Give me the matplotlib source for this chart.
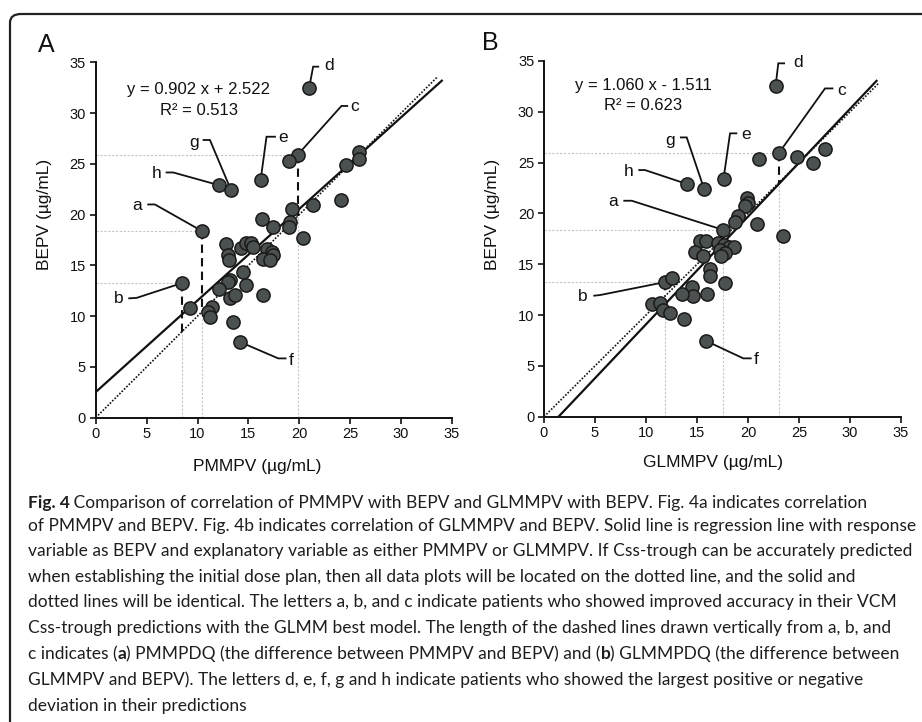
import matplotlib
matplotlib.use('Agg')
import matplotlib.pyplot as plt
from matplotlib.patches import FancyBboxPatch
from matplotlib import font_manager as fm

# ---------------- data ----------------
# Panel A: PMMPV (x) vs BEPV (y)
pm_x = [20.97, 19.85, 19.0, 16.2, 12.1, 13.3, 10.4, 8.45, 14.2, 24.6, 25.9, 25.9,
        24.1, 21.3, 19.3, 19.1, 19.0, 17.4, 16.3, 20.4, 12.8, 13.0, 13.1, 14.3,
        14.76, 15.3, 15.5, 16.78, 17.27, 17.44, 16.45, 17.1, 14.5, 13.2, 13.0, 12.1,
        14.75, 16.45, 13.2, 13.7, 9.3, 11.4, 11.06, 11.22, 13.5]
pm_y = [32.5, 25.9, 25.3, 23.4, 22.9, 22.4, 18.4, 13.25, 7.45, 24.9, 26.2, 25.5,
        21.4, 20.9, 20.6, 19.3, 18.8, 18.8, 19.6, 17.7, 17.1, 16.0, 15.5, 16.7,
        17.2, 17.2, 16.8, 16.58, 16.35, 16.02, 15.59, 15.53, 14.32, 13.6, 13.4, 12.64,
        13.07, 12.08, 11.8, 12.1, 10.8, 10.9, 10.44, 9.95, 9.39]

# Panel B: GLMMPV (x) vs BEPV (y)
gl_x = [22.7, 23.0, 21.1, 24.8, 26.4, 27.5, 17.6, 14.0, 15.7, 17.5, 20.9, 23.4,
        19.9, 20.0, 19.7, 19.05, 18.7, 15.3, 15.9, 14.8, 15.6, 17.1, 17.6, 18.1,
        18.6, 17.3, 17.7, 17.4, 16.3, 16.3, 17.7, 11.9, 12.5, 14.5, 14.6, 13.5,
        16.0, 10.6, 11.4, 11.7, 12.4, 13.7, 15.9]
gl_y = [32.5, 25.9, 25.4, 25.6, 25.0, 26.3, 23.4, 22.9, 22.4, 18.4, 19.0, 17.8,
        21.5, 21.0, 20.7, 19.7, 19.2, 17.3, 17.3, 16.2, 15.8, 17.05, 16.9, 16.7,
        16.7, 16.4, 16.1, 15.8, 14.5, 13.8, 13.2, 13.25, 13.6, 12.8, 11.9, 12.1,
        12.1, 11.1, 11.2, 10.5, 10.2, 9.6, 7.45]

# labelled patients: index into the arrays above
lab_names = ['d', 'c', 'e', 'h', 'g', 'a', 'b', 'f']
lab_idx_A = [0, 1, 3, 4, 5, 6, 7, 8]
lab_idx_B = [0, 1, 6, 7, 8, 9, 31, 42]
dq_names = ['a', 'b', 'c']   # patients with dashed PDQ lines

fit_A = (0.902, 2.522, 0.513)
fit_B = (1.060, -1.511, 0.623)

xticks = [0, 5, 10, 15, 20, 25, 30, 35]
yticks = [0, 5, 10, 15, 20, 25, 30, 35]

# ---------------- figure ----------------
W, H = 922, 722
fig = plt.figure(figsize=(W / 100, H / 100), dpi=100)
fig.patch.set_facecolor('white')


def pick(cands):
    for c in cands:
        try:
            fm.findfont(fm.FontProperties(family=c), fallback_to_default=False)
            return c
        except Exception:
            pass
    return 'DejaVu Sans'


AX_FONT = [pick(['Liberation Sans', 'Arial']), 'DejaVu Sans']
CAP_FONT = [pick(['Lato', 'Open Sans', 'Noto Sans']), 'DejaVu Sans']

# rounded frame
frame = FancyBboxPatch((10 / W, -0.2), 1.2, (H - 14) / H + 0.2,
                       boxstyle='round,pad=0,rounding_size=0.012',
                       transform=fig.transFigure, fill=False,
                       edgecolor='#222222', linewidth=1.6)
fig.patches.append(frame)

axA = fig.add_axes([95.7 / W, 1 - 417.7 / H, 356.3 / W, 355.4 / H])
axB = fig.add_axes([544 / W, 1 - 416.7 / H, 357 / W, 355.7 / H])

MFC = '#4b5150'

# label layout per panel: (label x, label y, ha, leader polyline from point)
layout_A = {
    'd': (22.45, 34.67, 'left', [(21.36, 34.57), (21.95, 34.57)]),
    'c': (25.05, 30.62, 'left', [(24.14, 30.7), (24.8, 30.7)]),
    'e': (17.95, 27.6, 'left', [(16.78, 27.67), (17.7, 27.67)]),
    'h': (6.5, 24.06, 'right', [(7.62, 24.15), (6.87, 24.15)]),
    'g': (10.15, 27.1, 'right', [(11.22, 27.35), (10.5, 27.35)]),
    'a': (4.55, 20.85, 'right', [(5.82, 21.0), (5.07, 21.0)]),
    'b': (2.75, 11.75, 'right', [(4.02, 11.8), (3.2, 11.75)]),
    'f': (19.0, 5.68, 'left', [(17.93, 5.84), (18.74, 5.84)]),
}
layout_B = {
    'd': (24.4, 34.83, 'left', [(22.97, 34.77), (23.63, 34.77)]),
    'c': (28.75, 32.14, 'left', [(27.55, 32.3), (28.37, 32.3)]),
    'e': (19.35, 27.78, 'left', [(18.24, 27.88), (18.95, 27.88)]),
    'h': (8.78, 24.1, 'right', [(9.9, 24.27), (9.25, 24.27)]),
    'g': (12.86, 27.16, 'right', [(13.99, 27.48), (13.33, 27.48)]),
    'a': (7.3, 21.15, 'right', [(8.6, 21.25), (7.78, 21.25)]),
    'b': (4.3, 11.87, 'right', [(5.49, 11.97), (4.84, 11.9)]),
    'f': (20.6, 5.58, 'left', [(19.54, 5.74), (20.36, 5.74)]),
}


def draw_panel(ax, xs, ys, fit, idx, layout, x_end, id_end, eq_xy):
    slope, icpt, r2 = fit
    ax.set_xlim(0, 35)
    ax.set_ylim(0, 35)
    for s in ['top', 'right']:
        ax.spines[s].set_visible(False)
    for s in ['left', 'bottom']:
        ax.spines[s].set_linewidth(1.4)
        ax.spines[s].set_color('#111111')
    ax.set_xticks(xticks)
    ax.set_yticks(yticks)
    ax.tick_params(direction='out', length=4, width=1.2, colors='#111111',
                   labelsize=10.5, pad=3)
    for t in ax.get_xticklabels() + ax.get_yticklabels():
        t.set_family(AX_FONT)
    ax.set_facecolor('none')

    # guide lines for a, b, c
    for nm in dq_names:
        i = idx[lab_names.index(nm)]
        px, py = xs[i], ys[i]
        ax.plot([0, px], [py, py], color='#c4c4c4', lw=0.8, ls=(0, (2, 1.5)), zorder=1)
        ax.plot([px, px], [0, px], color='#c4c4c4', lw=0.8, ls=(0, (2, 1.5)), zorder=1)
        ax.plot([px, px], [py, px], color='#111111', lw=1.5, ls=(0, (4, 2.5)), zorder=2)

    # identity (dotted) and regression (solid)
    ax.plot([0, id_end], [0, id_end], color='#111111', lw=1.2, ls=(0, (1, 1)), zorder=3)
    x0 = max(0.0, -icpt / slope)
    ax.plot([x0, x_end], [slope * x0 + icpt, slope * x_end + icpt],
            color='#111111', lw=1.6, zorder=3)

    # leaders and labels
    for nm, i in zip(lab_names, idx):
        lx, ly, ha, path = layout[nm]
        pxs = [xs[i]] + [p[0] for p in path]
        pys = [ys[i]] + [p[1] for p in path]
        ax.plot(pxs, pys, color='#111111', lw=1.3, zorder=2,
                solid_capstyle='butt', solid_joinstyle='miter')
        ax.text(lx, ly, nm, ha=ha, va='center', fontsize=12.5,
                family=AX_FONT, color='#111111')

    ax.plot(xs, ys, 'o', ms=9.5, mfc=MFC, mec='#1a1a1a', mew=1.1, zorder=5,
            clip_on=False)

    sign = '+' if icpt >= 0 else '-'
    ax.text(eq_xy[0], eq_xy[1], f'y = {slope:.3f} x {sign} {abs(icpt):.3f}',
            ha='center', va='center', fontsize=12, family=AX_FONT, color='#111111')
    ax.text(eq_xy[0], eq_xy[1] - 2.0, f'R² = {r2:.3f}',
            ha='center', va='center', fontsize=12, family=AX_FONT, color='#111111')


draw_panel(axA, pm_x, pm_y, fit_A, lab_idx_A, layout_A, 34.0, 33.6, (10.1, 32.3))
draw_panel(axB, gl_x, gl_y, fit_B, lab_idx_B, layout_B, 32.6, 32.8, (9.7, 32.6))


def ftext(x, y, s, **kw):
    return fig.text(x / W, 1 - y / H, s, **kw)


ftext(45, 214, 'BEPV (µg/mL)', rotation=90, ha='center', va='center',
      fontsize=12.5, family=AX_FONT, color='#111111')
ftext(492, 214, 'BEPV (µg/mL)', rotation=90, ha='center', va='center',
      fontsize=12.5, family=AX_FONT, color='#111111')
ftext(257, 467, 'PMMPV (µg/mL)', ha='center', va='center',
      fontsize=12.5, family=AX_FONT, color='#111111')
ftext(713, 462, 'GLMMPV (µg/mL)', ha='center', va='center',
      fontsize=12.5, family=AX_FONT, color='#111111')
ftext(46, 45, 'A', ha='center', va='center', fontsize=18, family=AX_FONT, color='#111111')
ftext(490, 43, 'B', ha='center', va='center', fontsize=18, family=AX_FONT, color='#111111')

# ---------------- caption ----------------
cap_lines = [
    [('Fig. 4', 'bold'), (' Comparison of correlation of PMMPV with BEPV and GLMMPV with BEPV. Fig. 4a indicates correlation', 'normal')],
    [('of PMMPV and BEPV. Fig. 4b indicates correlation of GLMMPV and BEPV. Solid line is regression line with response', 'normal')],
    [('variable as BEPV and explanatory variable as either PMMPV or GLMMPV. If Css-trough can be accurately predicted', 'normal')],
    [('when establishing the initial dose plan, then all data plots will be located on the dotted line, and the solid and', 'normal')],
    [('dotted lines will be identical. The letters a, b, and c indicate patients who showed improved accuracy in their VCM', 'normal')],
    [('Css-trough predictions with the GLMM best model. The length of the dashed lines drawn vertically from a, b, and', 'normal')],
    [('c indicates (', 'normal'), ('a', 'bold'), (') PMMPDQ (the difference between PMMPV and BEPV) and (', 'normal'),
     ('b', 'bold'), (') GLMMPDQ (the difference between', 'normal')],
    [('GLMMPV and BEPV). The letters d, e, f, g and h indicate patients who showed the largest positive or negative', 'normal')],
    [('deviation in their predictions', 'normal')],
]
cap_y = [503, 526, 551, 577, 602, 628, 654, 680, 706]
cap_end = [919, 913, 910, 892, 919, 913, 907, 878, 251]   # right ends in the reference
CAP_X0 = 27.5
renderer = fig.canvas.get_renderer()


def seg_width(s, weight, size):
    t1 = fig.text(0, 0, '|' + s + '|', fontsize=size, family=CAP_FONT, weight=weight)
    t2 = fig.text(0, 0, '||', fontsize=size, family=CAP_FONT, weight=weight)
    w = t1.get_window_extent(renderer).width - t2.get_window_extent(renderer).width
    t1.remove()
    t2.remove()
    return w


base = 11.0
ratios = []
for line, e in zip(cap_lines[:-1], cap_end[:-1]):
    w = sum(seg_width(s, wt, base) for s, wt in line)
    ratios.append((e - CAP_X0) / w)
cap_size = base * min(ratios)

for line, yy in zip(cap_lines, cap_y):
    x = CAP_X0
    for s, wt in line:
        ftext(x, yy, s, ha='left', va='center', fontsize=cap_size,
              family=CAP_FONT, weight=wt, color='#1e1e1e')
        x += seg_width(s, wt, cap_size)

fig.savefig('out.png', dpi=100, facecolor='white')
